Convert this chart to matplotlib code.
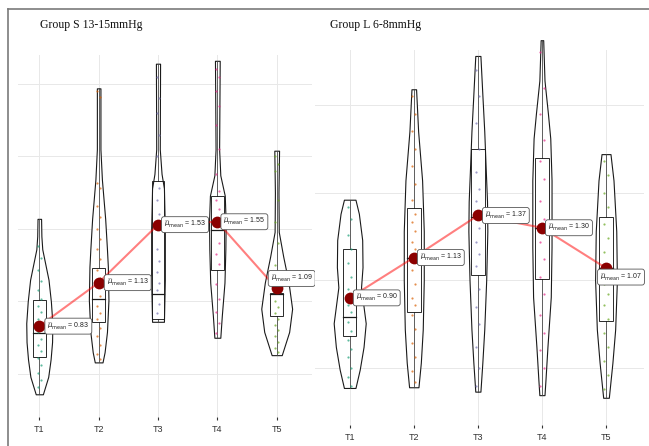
import matplotlib
matplotlib.use('Agg')
import matplotlib.pyplot as plt
from matplotlib.lines import Line2D
from matplotlib.patches import Rectangle

W, H = 649, 446

groups = ['T1', 'T2', 'T3', 'T4', 'T5']

# ---- Group S 13-15mmHg ----
s_mean = [0.83, 1.13, 1.53, 1.55, 1.09]
s_q1 = [0.62, 0.86, 0.88, 1.22, 0.90]
s_med = [0.78, 1.02, 1.05, 1.49, 1.05]
s_q3 = [1.01, 1.23, 1.83, 1.73, 1.06]

# violin outline: levels (y) and half widths
s_levels = [
    [1.57, 1.45, 1.36, 1.26, 1.15, 1.00, 0.85, 0.72, 0.60, 0.48, 0.36],
    [2.47, 2.05, 1.84, 1.57, 1.36, 1.24, 1.01, 0.79, 0.65, 0.58],
    [2.64, 2.05, 1.88, 1.78, 1.50, 1.15, 0.86],
    [2.66, 2.05, 1.87, 1.73, 1.55, 1.36, 1.13, 0.90, 0.75],
    [2.04, 1.75, 1.48, 1.31, 1.13, 0.95, 0.79, 0.63],
]
s_widths = [
    [0.03, 0.035, 0.05, 0.10, 0.155, 0.195, 0.22, 0.215, 0.19, 0.15, 0.06],
    [0.03, 0.03, 0.055, 0.11, 0.14, 0.155, 0.165, 0.14, 0.10, 0.065],
    [0.035, 0.03, 0.06, 0.10, 0.115, 0.115, 0.10],
    [0.04, 0.03, 0.05, 0.125, 0.14, 0.135, 0.12, 0.075, 0.05],
    [0.04, 0.03, 0.035, 0.11, 0.20, 0.26, 0.21, 0.085],
]
s_points = [
    [1.38, 1.30, 1.22, 1.14, 1.08, 1.02, 0.97, 0.93, 0.88, 0.84, 0.79, 0.74,
     0.70, 0.66, 0.61, 0.56, 0.51, 0.46, 0.41],
    [2.45, 2.41, 1.82, 1.78, 1.66, 1.58, 1.50, 1.43, 1.36, 1.29, 1.22, 1.16,
     1.10, 1.04, 0.97, 0.92, 0.88, 0.82, 0.76, 0.70, 0.64, 0.60],
    [2.55, 2.40, 2.30, 2.15, 2.00, 1.78, 1.70, 1.60, 1.36, 1.28, 1.20, 1.13,
     1.08, 0.98, 0.92],
    [2.60, 2.55, 2.45, 2.35, 2.22, 2.05, 1.88, 1.76, 1.70, 1.64, 1.56, 1.40,
     1.33, 1.26, 1.12, 1.02, 0.93, 0.85, 0.78],
    [2.00, 1.95, 1.90, 1.70, 1.55, 1.40, 1.25, 1.15, 1.00, 0.96, 0.92, 0.88,
     0.84, 0.80, 0.76, 0.72, 0.68, 0.65],
]

# ---- Group L 6-8mmHg ----
l_mean = [0.90, 1.13, 1.37, 1.30, 1.07]
l_q1 = [0.68, 0.82, 1.03, 1.01, 0.77]
l_med = [0.79, 1.13, 1.36, 1.30, 1.07]
l_q3 = [1.18, 1.41, 1.75, 1.70, 1.36]

l_levels = [
    [1.46, 1.38, 1.23, 1.075, 0.96, 0.755, 0.62, 0.49, 0.386],
    [2.09, 1.85, 1.57, 1.28, 1.00, 0.72, 0.53, 0.39],
    [2.28, 2.04, 1.85, 1.66, 1.45, 1.28, 1.00, 0.72, 0.53, 0.365],
    [2.37, 2.14, 1.95, 1.81, 1.57, 1.19, 0.905, 0.62, 0.43, 0.345],
    [1.72, 1.57, 1.28, 1.00, 0.72, 0.53, 0.33],
]
l_widths = [
    [0.09, 0.143, 0.195, 0.20, 0.177, 0.25, 0.216, 0.156, 0.09],
    [0.036, 0.068, 0.13, 0.156, 0.156, 0.14, 0.11, 0.073],
    [0.04, 0.073, 0.10, 0.12, 0.143, 0.148, 0.13, 0.10, 0.07, 0.04],
    [0.02, 0.04, 0.094, 0.13, 0.15, 0.15, 0.138, 0.086, 0.055, 0.04],
    [0.07, 0.117, 0.16, 0.17, 0.143, 0.10, 0.044],
]
l_points = [
    [1.42, 1.35, 1.26, 1.18, 1.10, 1.02, 0.95, 0.90, 0.86, 0.82, 0.76, 0.71,
     0.66, 0.61, 0.56, 0.50, 0.45, 0.40],
    [2.05, 1.95, 1.85, 1.75, 1.65, 1.55, 1.46, 1.38, 1.33, 1.28, 1.22, 1.18,
     1.06, 0.98, 0.90, 0.86, 0.80, 0.72, 0.64, 0.56, 0.48, 0.42],
    [2.20, 2.05, 1.90, 1.75, 1.62, 1.52, 1.45, 1.30, 1.22, 1.15, 1.08, 0.95,
     0.85, 0.75, 0.62, 0.50, 0.40],
    [2.30, 2.10, 1.95, 1.80, 1.68, 1.58, 1.45, 1.35, 1.22, 1.12, 1.02, 0.92,
     0.80, 0.70, 0.60, 0.50, 0.40],
    [1.68, 1.60, 1.50, 1.42, 1.32, 1.24, 1.16, 1.05, 0.98, 0.92, 0.86, 0.78,
     0.70, 0.62, 0.54, 0.46, 0.38],
]

palette = ['#1B9E77', '#D95F02', '#7570B3', '#E7298A', '#66A61E']


def draw_panel(ax, means, q1, med, q3, levels, widths, points, offsets,
               xlim, ylim, yticks):
    xs = list(range(1, len(groups) + 1))
    ax.set_xlim(*xlim)
    ax.set_ylim(*ylim)
    ax.set_xticks(xs)
    ax.set_xticklabels(groups)
    ax.set_yticks(yticks)
    ax.tick_params(axis='y', length=0, labelleft=False)
    ax.tick_params(axis='x', length=2.5, width=0.8, color='#333333',
                   labelsize=6.5, labelcolor='#333333', pad=3)
    for lab in ax.get_xticklabels():
        lab.set_family('Liberation Sans')
    ax.grid(color='#E8E8E8', lw=0.7)
    ax.set_axisbelow(True)
    for sp in ax.spines.values():
        sp.set_visible(False)

    bw = 0.105
    for i, x in enumerate(xs):
        lv, wd = levels[i], widths[i]
        ax.fill_betweenx(lv, [x - w for w in wd], [x + w for w in wd],
                         facecolor='white', edgecolor='#1a1a1a', lw=0.8,
                         clip_on=False, zorder=2)
        # whiskers
        ax.plot([x, x], [q3[i], max(lv)], color='#444444', lw=0.6, zorder=3,
                clip_on=False)
        ax.plot([x, x], [min(lv), q1[i]], color='#444444', lw=0.6, zorder=3)
        ax.add_patch(Rectangle((x - bw, q1[i]), 2 * bw, q3[i] - q1[i],
                               fill=False, ec='#1a1a1a', lw=0.65, zorder=3))
        ax.plot([x - bw, x + bw], [med[i], med[i]], color='#1a1a1a',
                lw=0.9, zorder=3)
        px = [x + (0.025 if k % 2 else -0.025) for k in range(len(points[i]))]
        ax.scatter(px, points[i], s=2.5, color=palette[i], alpha=0.7,
                   lw=0, zorder=4)

    ax.plot(xs, means, color='red', alpha=0.5, lw=1.5, zorder=5)
    ax.scatter(xs, means, s=72, color='#8B0000', zorder=6, lw=0)
    for i, x in enumerate(xs):
        dx, dy, ha, va = offsets[i]
        ax.annotate(r'$\widehat{\mu}_{\mathrm{mean}}$ = %.2f' % means[i],
                    xy=(x, means[i]), xytext=(dx, dy),
                    textcoords='offset pixels', ha=ha, va=va, fontsize=5,
                    family='Liberation Sans', color='#222222', zorder=7,
                    bbox=dict(boxstyle='round,pad=0.35', fc='white',
                              ec='#555555', lw=0.6))


fig = plt.figure(figsize=(W / 100, H / 100), dpi=100)
fig.patch.set_facecolor('white')
plt.rcParams['mathtext.fontset'] = 'dejavusans'

# left panel (pixel box 18..312 x 55..417)
ax1 = fig.add_axes([18 / W, (H - 417) / H, (312 - 18) / W, (417 - 55) / H])
s_offsets = [(8, 0, 'left', 'center'), (8, 0, 'left', 'center'),
             (6, 0, 'left', 'center'), (6, 0, 'left', 'center'),
             (-6, 10, 'left', 'center')]
draw_panel(ax1, s_mean, s_q1, s_med, s_q3, s_levels, s_widths, s_points,
           s_offsets, (0.641, 5.595), (0.2034, 2.70), [0.5, 1.0, 1.5, 2.0, 2.5])

# right panel (pixel box 315..644 x 50..425)
ax2 = fig.add_axes([315 / W, (H - 425) / H, (644 - 315) / W, (425 - 50) / H])
l_offsets = [(6, 0, 'left', 'center'), (6, 0, 'left', 'center'),
             (7, 0, 'left', 'center'), (6, 0, 'left', 'center'),
             (-6, -9, 'left', 'center')]
draw_panel(ax2, l_mean, l_q1, l_med, l_q3, l_levels, l_widths, l_points,
           l_offsets, (0.4585, 5.593), (0.1747, 2.314), [0.5, 1.0, 1.5, 2.0])

fig.text(40 / W, 1 - 25 / H, 'Group S 13-15mmHg', family='Liberation Serif',
         fontsize=8.5, ha='left', va='center', color='#111111')
fig.text(330 / W, 1 - 25 / H, 'Group L 6-8mmHg', family='Liberation Serif',
         fontsize=8.5, ha='left', va='center', color='#111111')

# outer frame (top and left edges)
fig.add_artist(Line2D([8 / W, 1], [1 - 9 / H, 1 - 9 / H],
                      transform=fig.transFigure, color='#7a7a7a', lw=1.2))
fig.add_artist(Line2D([8 / W, 8 / W], [1 - 9 / H, 0],
                      transform=fig.transFigure, color='#7a7a7a', lw=1.2))

fig.savefig('out.png', dpi=100)
